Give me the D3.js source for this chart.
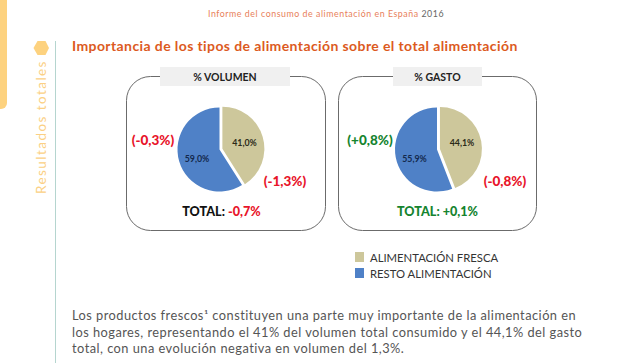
<!DOCTYPE html>
<html>
<head>
<meta charset="utf-8">
<script src="https://cdn.jsdelivr.net/npm/d3@7"></script>
<style>
  html, body { margin:0; padding:0; background:#fff; }
  svg { display:block; }
  text { font-family: Lato, "Open Sans", sans-serif; }
</style>
</head>
<body>
<div id="chart"></div>
<script>
const width = 630;
const height = 363;

const categories = ["ALIMENTACIÓN FRESCA", "RESTO ALIMENTACIÓN"];
const colours = ["#cdc79b", "#4f81c7"];

const panelNames = ["% VOLUMEN", "% GASTO"];
const volumen = [41.0, 59.0];
const gasto = [44.1, 55.9];
const sliceLabels = [["41,0%", "59,0%"], ["44,1%", "55,9%"]];
const changeFresca = ["(-1,3%)", "(-0,8%)"];
const changeResto = ["(-0,3%)", "(+0,8%)"];
const totals = ["-0,7%", "+0,1%"];

const textLines = [
  "Los productos frescos¹ constituyen una parte muy importante de la alimentación en",
  "los hogares, representando el 41% del volumen total consumido y el 44,1% del gasto",
  "total, con una evolución negativa en volumen del 1,3%."
];

const red = "#e8142a";
const green = "#15842f";

const svg = d3.select("#chart")
  .append("svg")
  .attr("width", width)
  .attr("height", height);

// page furniture
svg.append("rect")
  .attr("x", -10).attr("y", -10)
  .attr("width", 17).attr("height", 119)
  .attr("rx", 6)
  .attr("fill", "#fdd27f");

svg.append("path")
  .attr("d", "M33.5,48 L37.5,41 L45.5,41 L49,48 L45.5,55 L37.5,55 Z")
  .attr("fill", "#fdd27f");

svg.append("line")
  .attr("x1", 55.5).attr("x2", 55.5)
  .attr("y1", 41).attr("y2", 363)
  .attr("stroke", "#b5d5cf")
  .attr("stroke-width", 1);

svg.append("text")
  .attr("transform", "translate(46,194) rotate(-90)")
  .attr("font-size", 13.5)
  .attr("letter-spacing", 1.45)
  .attr("fill", "#fbd084")
  .text("Resultados totales");

// header
const head = svg.append("text")
  .attr("x", 326).attr("y", 17)
  .attr("text-anchor", "middle")
  .attr("font-size", 8.8)
  .attr("letter-spacing", 0.55)
  .attr("fill", "#e8805a");
head.append("tspan").text("Informe del consumo de alimentación en España ");
head.append("tspan").attr("fill", "#666").text("2016");

svg.append("text")
  .attr("x", 72).attr("y", 51)
  .attr("font-size", 14)
  .attr("font-weight", 700)
  .attr("letter-spacing", 0.4)
  .attr("fill", "#dc5a1e")
  .text("Importancia de los tipos de alimentación sobre el total alimentación");

// panels
const panels = [
  {x:126, w:199, cx:219.5, tx:160, tw:130, left:153, right:285},
  {x:338, w:198, cx:437, tx:393, tw:89, left:370, right:505}
];

const pie = d3.pie().sort(null);
const arc = d3.arc().innerRadius(0).outerRadius(42);

[volumen, gasto].forEach((values, p) => {
  const pos = panels[p];
  const g = svg.append("g");

  g.append("rect")
    .attr("x", pos.x + 0.5).attr("y", 76.5)
    .attr("width", pos.w).attr("height", 154)
    .attr("rx", 24)
    .attr("fill", "#fff")
    .attr("stroke", "#6b6b6b")
    .attr("stroke-width", 1);

  g.append("rect")
    .attr("x", pos.tx).attr("y", 67)
    .attr("width", pos.tw).attr("height", 19)
    .attr("fill", "#f0f0f0");

  g.append("text")
    .attr("x", pos.tx + pos.tw / 2).attr("y", 81)
    .attr("text-anchor", "middle")
    .attr("font-size", 10.5)
    .attr("font-weight", 700)
    .attr("fill", "#222")
    .text(panelNames[p]);

  const slices = pie(values);
  const pieG = g.append("g").attr("transform", `translate(${pos.cx},149.5)`);

  pieG.selectAll("path")
    .data(slices)
    .enter()
    .append("path")
    .attr("d", arc)
    .attr("fill", (d, i) => colours[i])
    .attr("transform", (d, i) => {
      // fresh slice is pulled out a little
      if (i > 0) return null;
      const mid = (d.startAngle + d.endAngle) / 2;
      return `translate(${Math.sin(mid) * 3},${-Math.cos(mid) * 3})`;
    });

  pieG.selectAll(".pct")
    .data(slices)
    .enter()
    .append("text")
    .attr("class", "pct")
    .attr("x", (d, i) => i === 0 ? 25 : -22.5)
    .attr("y", (d, i) => i === 0 ? -3.5 : 12.5)
    .attr("text-anchor", "middle")
    .attr("font-size", 8.8)
    .attr("font-weight", 700)
    .attr("fill", (d, i) => i === 0 ? "#2b2a18" : "#13294d")
    .text((d, i) => sliceLabels[p][i]);

  g.append("text")
    .attr("x", pos.left).attr("y", 145)
    .attr("text-anchor", "middle")
    .attr("font-size", 13.5)
    .attr("font-weight", 900)
    .attr("fill", changeResto[p][1] === "+" ? green : red)
    .text(changeResto[p]);

  g.append("text")
    .attr("x", pos.right).attr("y", 186)
    .attr("text-anchor", "middle")
    .attr("font-size", 13.5)
    .attr("font-weight", 900)
    .attr("fill", red)
    .text(changeFresca[p]);

  const total = g.append("text")
    .attr("x", pos.tx + pos.tw / 2 - (p === 0 ? 3.5 : 0)).attr("y", 216)
    .attr("text-anchor", "middle")
    .attr("font-size", 12.6)
    .attr("font-weight", 900)
    .attr("fill", p === 0 ? "#111" : green);
  total.append("tspan").text("TOTAL: ");
  total.append("tspan").attr("fill", p === 0 ? red : green).text(totals[p]);
});

// legend
const legend = svg.selectAll(".legend")
  .data(categories)
  .enter()
  .append("g")
  .attr("class", "legend")
  .attr("transform", (d, i) => `translate(355,${252 + i * 16})`);

legend.append("rect")
  .attr("width", 9)
  .attr("height", 10)
  .attr("fill", (d, i) => colours[i]);

legend.append("text")
  .attr("x", 15)
  .attr("y", 10)
  .attr("font-size", 11.3)
  .attr("fill", "#333")
  .text(d => d);

// body text
svg.selectAll(".body")
  .data(textLines)
  .enter()
  .append("text")
  .attr("class", "body")
  .attr("x", 72)
  .attr("y", (d, i) => 320 + i * 16.5)
  .attr("font-size", 12.8)
  .attr("letter-spacing", 0.47)
  .attr("fill", "#555")
  .text(d => d);
</script>
</body>
</html>
